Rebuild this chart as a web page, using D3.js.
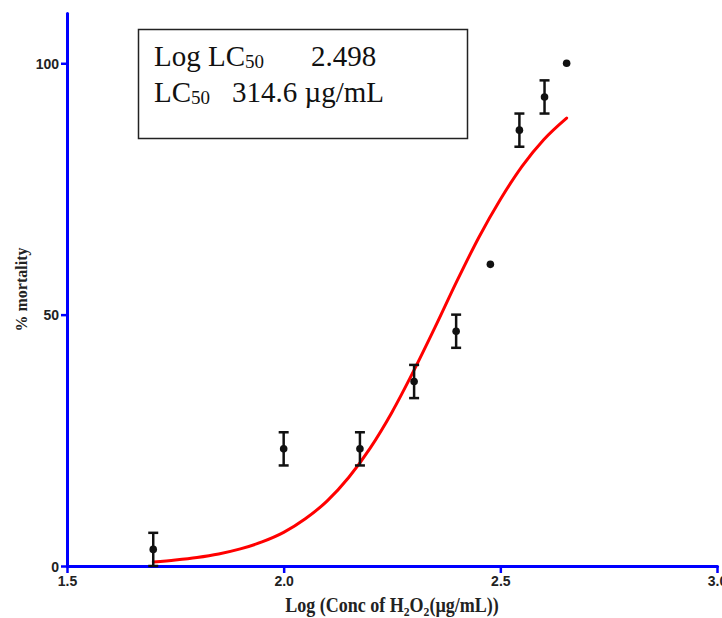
<!DOCTYPE html>
<html>
<head>
<meta charset="utf-8">
<script src="https://cdn.jsdelivr.net/npm/d3@7"></script>
<style>
  html, body { margin: 0; padding: 0; background: #fff; }
  svg { display: block; }
  .tick-label { font-family: "Liberation Sans", Arial, sans-serif; font-weight: bold; font-size: 14px; fill: #222; }
  .axis-title { font-family: "Liberation Serif", "Times New Roman", serif; font-weight: bold; fill: #222; }
  .legend-text { font-family: "Liberation Serif", "Times New Roman", serif; font-size: 29px; fill: #111; }
</style>
</head>
<body>
<svg id="chart"></svg>
<script>
// Observed mortality (mean ± SEM) against log concentration
const logConc = [1.699, 2.0, 2.176, 2.301, 2.398, 2.477, 2.544, 2.602, 2.653];
const mortality = [3.3, 23.3, 23.3, 36.7, 46.7, 60, 86.7, 93.3, 100];
const sem = [3.3, 3.3, 3.3, 3.3, 3.3, 0, 3.3, 3.3, 0];

// Fitted dose-response curve
const fitX = [1.699, 1.75, 1.8, 1.85, 1.9, 1.95, 2.0, 2.05, 2.1, 2.15, 2.2, 2.25, 2.3, 2.35, 2.4, 2.45, 2.5, 2.55, 2.6, 2.653];
const fitY = [0.8, 1.2, 1.7, 2.4, 3.4, 4.8, 6.7, 9.4, 12.9, 17.6, 23.5, 30.6, 38.8, 47.6, 56.7, 65.3, 72.9, 79.5, 84.8, 89.1];

const xTicks = [1.5, 2.0, 2.5, 3.0];
const yTicks = [0, 50, 100];

const W = 722, H = 618;
const svg = d3.select('#chart').attr('width', W).attr('height', H);

const x = d3.scaleLinear().domain([1.5, 3.0]).range([67, 717]);
const y = d3.scaleLinear().domain([0, 110]).range([566, 13]);

const blue = '#0000ff';

// Axes
const xAxis = svg.append('g').attr('transform', `translate(0,${y(0)})`)
    .call(d3.axisBottom(x).tickValues(xTicks).tickFormat(d3.format('.1f')).tickSize(7).tickSizeOuter(0));
const yAxis = svg.append('g').attr('transform', `translate(${x(1.5)},0)`)
    .call(d3.axisLeft(y).tickValues(yTicks).tickSize(6).tickSizeOuter(0));

[xAxis, yAxis].forEach(g => {
    g.attr('font-size', null).attr('font-family', null);
    g.select('.domain').attr('stroke', blue).attr('stroke-width', 3).attr('stroke-linecap', 'round');
    g.selectAll('.tick line').attr('stroke', blue).attr('stroke-width', 2.5);
    g.selectAll('.tick text').attr('class', 'tick-label').attr('fill', null);
});
xAxis.selectAll('.tick text').attr('y', 10).attr('dy', '0.71em');
yAxis.selectAll('.tick text').attr('x', -8).attr('dy', '0.36em');

// Axis titles
svg.append('text')
    .attr('class', 'axis-title')
    .attr('transform', `translate(27,${(y(0) + y(110)) / 2}) rotate(-90)`)
    .attr('text-anchor', 'middle')
    .attr('font-size', 16)
    .text('% mortality');

// x title is drawn slightly condensed, like the source figure
const xTitle = svg.append('text')
    .attr('class', 'axis-title')
    .attr('transform', `translate(${(x(1.5) + x(3.0)) / 2},612) scale(0.9,1)`)
    .attr('text-anchor', 'middle')
    .attr('font-size', 20);
xTitle.append('tspan').text('Log (Conc of H');
xTitle.append('tspan').attr('font-size', 13).attr('dy', 4).text('2');
xTitle.append('tspan').attr('dy', -4).text('O');
xTitle.append('tspan').attr('font-size', 13).attr('dy', 4).text('2');
xTitle.append('tspan').attr('dy', -4).text('(µg/mL))');

// Fitted curve
const line = d3.line()
    .x(d => x(d[0]))
    .y(d => y(d[1]))
    .curve(d3.curveMonotoneX);

svg.append('path')
    .datum(d3.zip(fitX, fitY))
    .attr('d', line)
    .attr('fill', 'none')
    .attr('stroke', '#ff0000')
    .attr('stroke-width', 3)
    .attr('stroke-linecap', 'round');

// Error bars
const points = d3.zip(logConc, mortality, sem);
const bars = svg.append('g').attr('stroke', '#111').attr('stroke-width', 2.5);
points.filter(d => d[2] > 0).forEach(([cx, m, e]) => {
    bars.append('line').attr('x1', x(cx)).attr('x2', x(cx)).attr('y1', y(m - e)).attr('y2', y(m + e));
    [m - e, m + e].forEach(v => {
        bars.append('line').attr('x1', x(cx) - 5).attr('x2', x(cx) + 5).attr('y1', y(v)).attr('y2', y(v));
    });
});

// Points
svg.append('g').selectAll('circle')
    .data(points)
    .join('circle')
    .attr('cx', d => x(d[0]))
    .attr('cy', d => y(d[1]))
    .attr('r', 3.8)
    .attr('fill', '#111');

// LC50 box
svg.append('rect')
    .attr('x', 138.5).attr('y', 29.5)
    .attr('width', 329).attr('height', 109)
    .attr('fill', '#fff')
    .attr('stroke', '#222')
    .attr('stroke-width', 1.5);

const l1 = svg.append('text').attr('class', 'legend-text').attr('x', 154).attr('y', 66);
l1.append('tspan').text('Log LC');
l1.append('tspan').attr('font-size', 19).attr('dy', 2).text('50');
svg.append('text').attr('class', 'legend-text').attr('x', 311).attr('y', 66).text('2.498');

const l2 = svg.append('text').attr('class', 'legend-text').attr('x', 154).attr('y', 102);
l2.append('tspan').text('LC');
l2.append('tspan').attr('font-size', 19).attr('dy', 2).text('50');
svg.append('text').attr('class', 'legend-text').attr('x', 232).attr('y', 102).text('314.6 µg/mL');
</script>
</body>
</html>
